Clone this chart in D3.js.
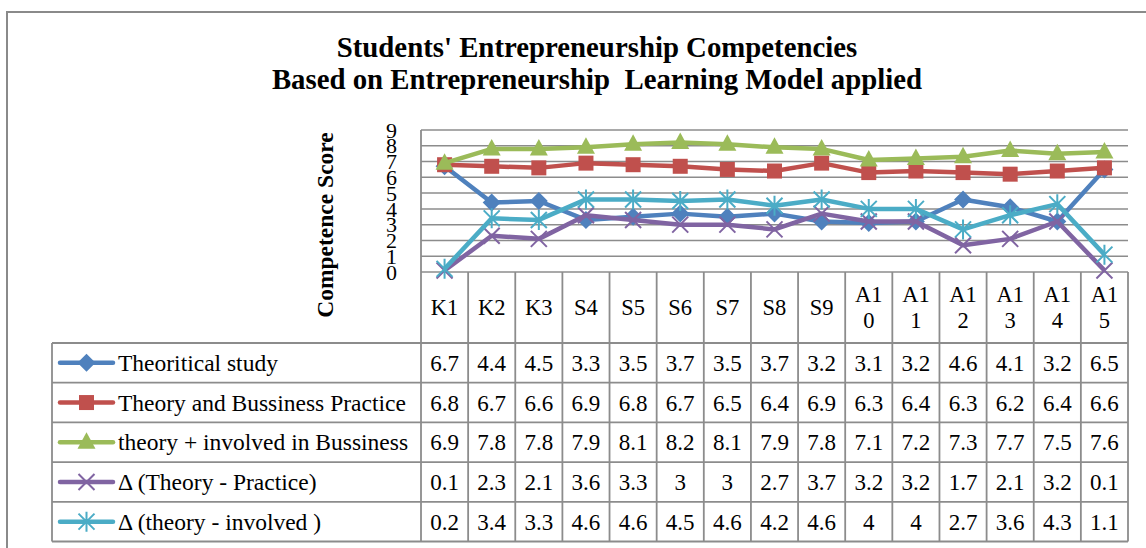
<!DOCTYPE html>
<html>
<head>
<meta charset="utf-8">
<script src="https://cdn.jsdelivr.net/npm/d3@7"></script>
<style>
  body { margin: 0; background: #fff; }
  svg { display: block; font-family: "Liberation Serif", "Times New Roman", serif; }
</style>
</head>
<body>
<script>
const categories = ["K1", "K2", "K3", "S4", "S5", "S6", "S7", "S8", "S9", "A10", "A11", "A12", "A13", "A14", "A15"];
const seriesNames = ["Theoritical study", "Theory and Bussiness Practice", "theory + involved in Bussiness", "\u0394 (Theory - Practice)", "\u0394 (theory - involved )"];
const theoritical = [6.7, 4.4, 4.5, 3.3, 3.5, 3.7, 3.5, 3.7, 3.2, 3.1, 3.2, 4.6, 4.1, 3.2, 6.5];
const theoryPractice = [6.8, 6.7, 6.6, 6.9, 6.8, 6.7, 6.5, 6.4, 6.9, 6.3, 6.4, 6.3, 6.2, 6.4, 6.6];
const theoryInvolved = [6.9, 7.8, 7.8, 7.9, 8.1, 8.2, 8.1, 7.9, 7.8, 7.1, 7.2, 7.3, 7.7, 7.5, 7.6];
const deltaPractice = [0.1, 2.3, 2.1, 3.6, 3.3, 3, 3, 2.7, 3.7, 3.2, 3.2, 1.7, 2.1, 3.2, 0.1];
const deltaInvolved = [0.2, 3.4, 3.3, 4.6, 4.6, 4.5, 4.6, 4.2, 4.6, 4, 4, 2.7, 3.6, 4.3, 1.1];
const yTicks = [0, 1, 2, 3, 4, 5, 6, 7, 8, 9];
const titleLines = ["Students' Entrepreneurship Competencies", "Based on Entrepreneurship\u00a0 Learning Model applied"];
const yTitle = "Competence Score";

const colors = ["#4f81bd", "#c0504d", "#9bbb59", "#8064a2", "#4bacc6"];
const markers = ["diamond", "square", "triangle", "x", "star"];
const series = seriesNames.map((name, i) => ({
  name,
  values: [theoritical, theoryPractice, theoryInvolved, deltaPractice, deltaInvolved][i],
  color: colors[i],
  marker: markers[i]
}));

const width = 1146, height = 548;
const plotLeft = 421, plotRight = 1128, plotTop = 130, plotBottom = 272;
const headBottom = 343, rowH = 39.7, legendLeft = 52;
const gridColor = "#8c8c8c";

const svg = d3.select("body").append("svg")
  .attr("width", width)
  .attr("height", height);

// outer frame
svg.append("rect")
  .attr("x", 7).attr("y", 12)
  .attr("width", 1200).attr("height", 600)
  .attr("fill", "none")
  .attr("stroke", "#8a8a8a")
  .attr("stroke-width", 2);

var x = d3.scaleBand()
  .domain(categories)
  .range([plotLeft, plotRight]);

var y = d3.scaleLinear()
  .domain([0, 9])
  .range([plotBottom, plotTop]);

// title
svg.append("g")
  .selectAll("text")
  .data(titleLines)
  .join("text")
    .attr("x", 597)
    .attr("y", (d, i) => 57 + i * 31.5)
    .attr("text-anchor", "middle")
    .attr("font-weight", "bold")
    .attr("font-size", 28.8)
    .text(d => d);

// horizontal gridlines
svg.append("g")
  .selectAll("line")
  .data(yTicks)
  .join("line")
    .attr("x1", plotLeft).attr("x2", plotRight)
    .attr("y1", d => y(d)).attr("y2", d => y(d))
    .attr("stroke", gridColor)
    .attr("stroke-width", 1.5);

// y axis tick labels
svg.append("g")
  .selectAll("text")
  .data(yTicks)
  .join("text")
    .attr("x", 397)
    .attr("y", d => y(d))
    .attr("dy", "0.35em")
    .attr("text-anchor", "end")
    .attr("font-size", 22)
    .text(d => d);

svg.append("text")
  .attr("transform", `translate(333,${(plotTop + 320) / 2}) rotate(-90)`)
  .attr("text-anchor", "middle")
  .attr("font-weight", "bold")
  .attr("font-size", 23.5)
  .text(yTitle);

// data table grid
const tableBottom = headBottom + rowH * series.length;
const grid = svg.append("g")
  .attr("stroke", gridColor)
  .attr("stroke-width", 1.8);

grid.append("line")
  .attr("x1", plotLeft).attr("x2", plotLeft)
  .attr("y1", plotTop).attr("y2", tableBottom);

grid.append("g")
  .selectAll("line")
  .data(categories)
  .join("line")
    .attr("x1", d => x(d) + x.bandwidth()).attr("x2", d => x(d) + x.bandwidth())
    .attr("y1", plotBottom).attr("y2", tableBottom);

grid.append("g")
  .selectAll("line")
  .data(d3.range(series.length + 1))
  .join("line")
    .attr("x1", legendLeft).attr("x2", plotRight)
    .attr("y1", i => headBottom + i * rowH).attr("y2", i => headBottom + i * rowH);

grid.append("line")
  .attr("x1", legendLeft).attr("x2", legendLeft)
  .attr("y1", headBottom).attr("y2", tableBottom);

// category labels (wrapped like the narrow cells)
const catText = svg.append("g")
  .attr("font-size", 22.5)
  .attr("text-anchor", "middle")
  .selectAll("text")
  .data(categories)
  .join("text")
    .attr("x", d => x(d) + x.bandwidth() / 2);

catText.each(function (d) {
  const parts = d.length > 2 ? [d.slice(0, 2), d.slice(2)] : [d];
  const y0 = (plotBottom + headBottom) / 2 - (parts.length - 1) * 13;
  d3.select(this).selectAll("tspan")
    .data(parts)
    .join("tspan")
      .attr("x", x(d) + x.bandwidth() / 2)
      .attr("y", (p, i) => y0 + i * 26)
      .attr("dy", "0.35em")
      .text(p => p);
});

// marker shapes
function markerPath(type) {
  if (type === "diamond") return "M0,-9L9,0L0,9L-9,0Z";
  if (type === "square") return "M-7.5,-7.5H7.5V7.5H-7.5Z";
  if (type === "triangle") return "M0,-10L9,6.5H-9Z";
  if (type === "x") return "M-8,-8L8,8M-8,8L8,-8";
  return "M-8,-8L8,8M-8,8L8,-8M0,-10V10";
}

function drawMarker(g, s) {
  const filled = s.marker !== "x" && s.marker !== "star";
  g.append("path")
    .attr("d", markerPath(s.marker))
    .attr("fill", filled ? s.color : "none")
    .attr("stroke", s.color)
    .attr("stroke-width", filled ? 0 : 2);
}

// series lines and markers
var line = d3.line()
  .x((d, i) => x(categories[i]) + x.bandwidth() / 2)
  .y(d => y(d));

series.forEach(s => {
  const g = svg.append("g");
  g.append("path")
    .datum(s.values)
    .attr("fill", "none")
    .attr("stroke", s.color)
    .attr("stroke-width", 4.5)
    .attr("stroke-linejoin", "round")
    .attr("d", line);
  g.selectAll("g")
    .data(s.values)
    .join("g")
      .attr("transform", (d, i) => `translate(${x(categories[i]) + x.bandwidth() / 2},${y(d)})`)
      .each(function () { drawMarker(d3.select(this), s); });
});

// legend keys and values in table rows
series.forEach((s, r) => {
  const cy = headBottom + rowH * (r + 0.5);
  const row = svg.append("g");
  row.append("line")
    .attr("x1", 60).attr("x2", 113)
    .attr("y1", cy).attr("y2", cy)
    .attr("stroke", s.color)
    .attr("stroke-width", 4.5)
    .attr("stroke-linecap", "round");
  const key = row.append("g").attr("transform", `translate(86.5,${cy})`);
  drawMarker(key, s);
  row.append("text")
    .attr("x", 118)
    .attr("y", cy)
    .attr("dy", "0.35em")
    .attr("font-size", 23.5)
    .text(s.name);
  row.append("g")
    .selectAll("text")
    .data(s.values)
    .join("text")
      .attr("x", (d, i) => x(categories[i]) + x.bandwidth() / 2)
      .attr("y", cy)
      .attr("dy", "0.35em")
      .attr("text-anchor", "middle")
      .attr("font-size", 23)
      .text(d => String(d));
});
</script>
</body>
</html>
